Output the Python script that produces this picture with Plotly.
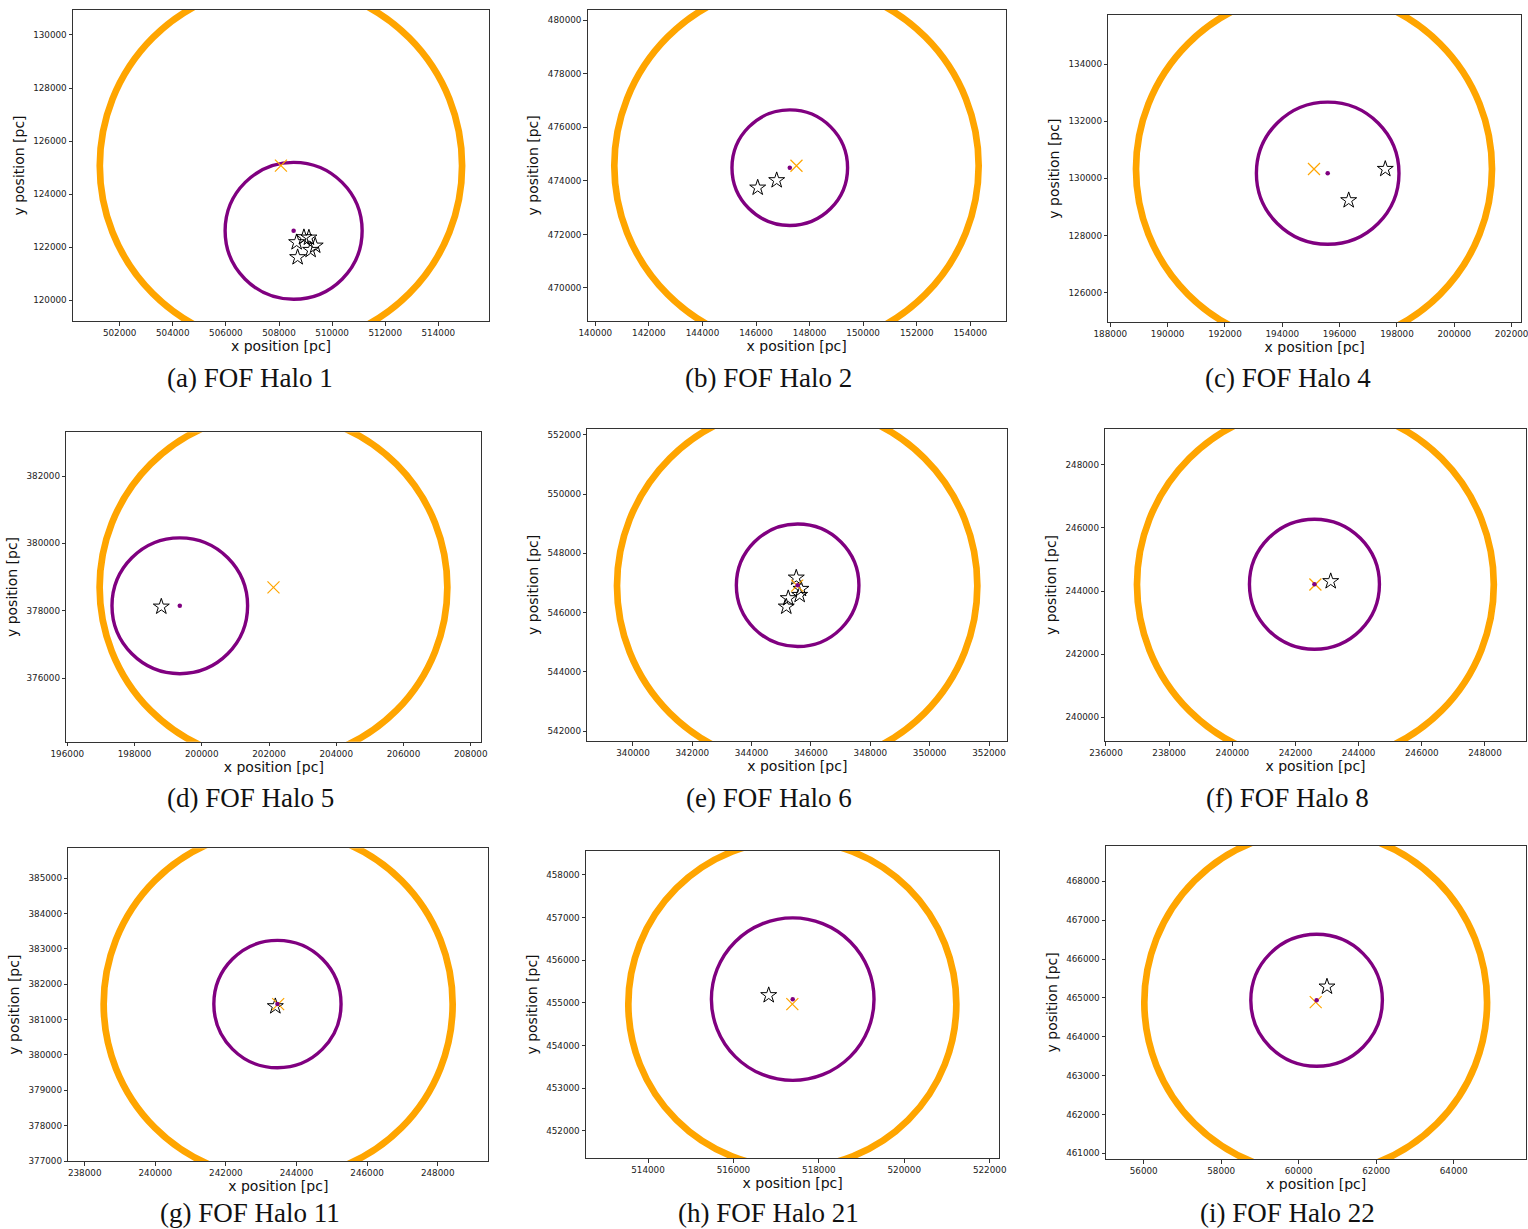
import plotly.graph_objects as go

W, H = 1528, 1229

captions = ["(a) FOF Halo 1", "(b) FOF Halo 2", "(c) FOF Halo 4",
            "(d) FOF Halo 5", "(e) FOF Halo 6", "(f) FOF Halo 8",
            "(g) FOF Halo 11", "(h) FOF Halo 21", "(i) FOF Halo 22"]

# FOF halo centre (orange x) and its radius (orange circle)
halo_x = [508073, 147510, 195105, 202133, 345534, 242630, 243480, 517379, 60439]
halo_y = [125074, 474568, 130326, 378694, 546909, 244205, 381440, 454975, 464890]
halo_r = [6822, 6801, 6209, 5172, 6073, 5649, 4943, 3840, 4423]

# subhalo centre (purple dot) and its radius (purple circle)
sub_x = [508551, 147260, 195583, 199346, 345550, 242600, 243460, 517388, 60462]
sub_y = [122620, 474494, 130179, 378145, 546923, 244214, 381440, 455090, 464938]
sub_r = [2580, 2158, 2487, 2017, 2066, 2058, 1802, 1904, 1698]

# star particles
star_x = [
    [508664, 508939, 509127, 509364, 509191, 508702],
    [146062, 146771],
    [197592, 196315],
    [198796],
    [345504, 345662, 345618, 345234, 345167],
    [243115],
    [243400],
    [516826],
    [60730],
]
star_y = [
    [122186, 122375, 122360, 122058, 121896, 121621],
    [473747, 474023],
    [130326, 129231],
    [378118],
    [547179, 546798, 546595, 546484, 546201],
    [244308],
    [381377],
    [455181],
    [465288],
]

# axis ranges
x_range = [[500242, 515909], [139716, 155321], [187930, 202326],
           [195970, 208315], [338460, 352617], [235978, 249289],
           [237535, 249433], [512548, 522225], [55027, 65874]]
y_range = [[119220, 130942], [468767, 480396], [124964, 135714],
           [374108, 383298], [541673, 552202], [239240, 249140],
           [377000, 385849], [451360, 458569], [460853, 468916]]
x_dtick = [2000] * 9
y_dtick = [2000, 2000, 2000, 2000, 2000, 2000, 1000, 1000, 1000]

# panel boxes in pixels (left, right, top, bottom)
boxes = [(73, 489, 10, 321), (587.7, 1005.7, 9.7, 321), (1108.3, 1521, 15, 322.3),
         (66.3, 481.3, 432.3, 741.7), (587.3, 1007.3, 428.7, 741), (1105.3, 1525.7, 428.7, 741.3),
         (68.3, 488.3, 848.3, 1161), (586, 999.3, 850.7, 1158.3), (1106, 1526.3, 845.7, 1159)]
cap_pos = [(250, 378), (768.5, 378), (1287.7, 378),
           (250, 798), (769, 798), (1287.7, 798),
           (250, 1213), (768.7, 1213), (1287.7, 1213)]

fig = go.Figure()
shapes = []
annotations = []
layout = {}
for i in range(9):
    n = "" if i == 0 else str(i + 1)
    xa, ya = "x" + n, "y" + n
    fig.add_trace(go.Scatter(x=star_x[i], y=star_y[i], mode="markers", xaxis=xa, yaxis=ya,
                             marker=dict(symbol="star-open", size=12, color="black",
                                         line=dict(width=1, color="black")),
                             showlegend=False, hoverinfo="skip"))
    fig.add_trace(go.Scatter(x=[halo_x[i]], y=[halo_y[i]], mode="markers", xaxis=xa, yaxis=ya,
                             marker=dict(symbol="x-thin", size=12, color="orange",
                                         line=dict(width=1.2, color="orange")),
                             showlegend=False, hoverinfo="skip"))
    fig.add_trace(go.Scatter(x=[sub_x[i]], y=[sub_y[i]], mode="markers", xaxis=xa, yaxis=ya,
                             marker=dict(symbol="circle", size=4.5, color="purple"),
                             showlegend=False, hoverinfo="skip"))
    shapes.append(dict(type="circle", xref=xa, yref=ya, layer="below",
                       x0=halo_x[i] - halo_r[i], x1=halo_x[i] + halo_r[i],
                       y0=halo_y[i] - halo_r[i], y1=halo_y[i] + halo_r[i],
                       line=dict(color="orange", width=6.7)))
    shapes.append(dict(type="circle", xref=xa, yref=ya, layer="below",
                       x0=sub_x[i] - sub_r[i], x1=sub_x[i] + sub_r[i],
                       y0=sub_y[i] - sub_r[i], y1=sub_y[i] + sub_r[i],
                       line=dict(color="purple", width=3.4)))
    l, r, t, b = boxes[i]
    common = dict(showgrid=False, zeroline=False, showline=True, mirror=True,
                  linecolor="#333", linewidth=1, ticks="outside", ticklen=3.5,
                  tickwidth=0.8, tickcolor="#333", tickformat="d",
                  tickfont=dict(family="DejaVu Sans", size=8.8, color="#222"),
                  ticklabeloverflow="allow", automargin=False)
    layout["xaxis" + n] = dict(common, domain=[l / W, r / W], range=x_range[i],
                               dtick=x_dtick[i], tick0=0, anchor=ya,
                               title=dict(text="x position [pc]", standoff=3,
                                          font=dict(family="DejaVu Sans", size=14, color="#111")))
    layout["yaxis" + n] = dict(common, domain=[1 - b / H, 1 - t / H], range=y_range[i],
                               dtick=y_dtick[i], tick0=0, anchor=xa,
                               title=dict(text="y position [pc]", standoff=5,
                                          font=dict(family="DejaVu Sans", size=14, color="#111")))
    cx, cy = cap_pos[i]
    annotations.append(dict(text=captions[i], xref="paper", yref="paper",
                            x=cx / W, y=1 - cy / H, xanchor="center", yanchor="middle",
                            showarrow=False,
                            font=dict(family="Liberation Serif", size=27, color="#111")))

fig.update_layout(width=W, height=H, margin=dict(l=0, r=0, t=0, b=0),
                  paper_bgcolor="white", plot_bgcolor="white",
                  shapes=shapes, annotations=annotations, showlegend=False, **layout)
fig.write_html("out.html", config={"displayModeBar": False},
               post_script="document.body.style.margin='0';document.body.style.overflow='hidden';")
